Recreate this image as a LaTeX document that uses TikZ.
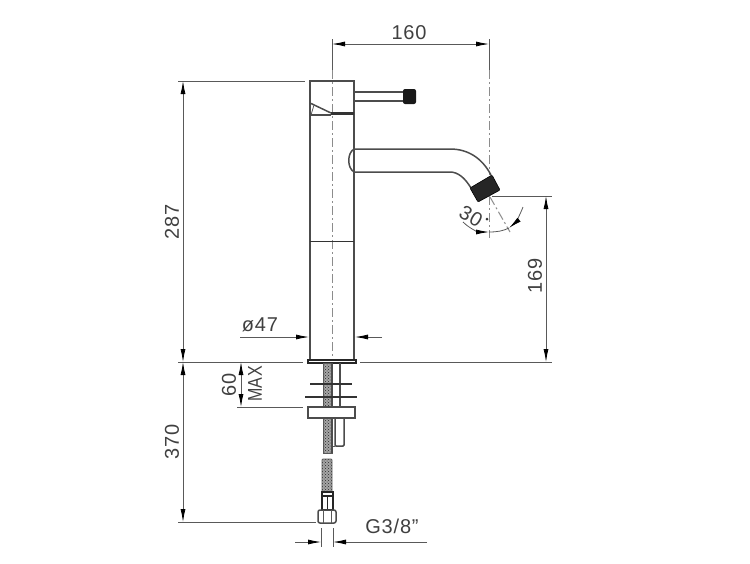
\documentclass[tikz,border=0pt]{standalone}
\usepackage{fontspec}
\setmainfont{Liberation Sans}[LetterSpace=4]
\usetikzlibrary{arrows.meta, patterns}

\begin{document}
\begin{tikzpicture}[
    x=1pt, y=-1pt,
    outline/.style={line width=1.5pt, black!70},
    heavy/.style={line width=2.2pt, black!80},
    thin line/.style={line width=0.8pt, black!65},
    axis/.style={line width=1pt, black!45, dash pattern=on 9pt off 3pt on 2pt off 3pt},
    dimension/.style={thin line, {Latex[length=13pt,width=5pt,black]}-{Latex[length=13pt,width=5pt,black]}},
    pointer/.style={thin line, -{Latex[length=13pt,width=5pt,black]}},
    hose/.style={line width=0.8pt, black!65, preaction={fill=black!35}, pattern=crosshatch dots, pattern color=black!85},
    label/.style={font=\fontsize{20}{20}\selectfont, text=black!75, inner sep=0pt}
]
\useasboundingbox (0,0) rectangle (750,563);

% Anchor points
\coordinate (topA) at (332,44);
\coordinate (topB) at (489,44);
\coordinate (leftTop) at (183,81);
\coordinate (leftMid) at (183,362);
\coordinate (leftLow) at (183,522);
\coordinate (rightTop) at (546,196);
\coordinate (rightLow) at (546,362);
\coordinate (maxTop) at (241,362);
\coordinate (maxLow) at (241,407);

% Axes
\draw[axis] (332,70) -- (332,360);
\draw[axis] (489,70) -- (489,175);
\draw[axis] (489,196) -- (489,238);
\draw[axis] (490,197) -- (510,232);

% Tap body
\draw[outline] (310,360) -- (310,81) -- (354,81) -- (354,360);
\draw[thin line, black!80, line width=1pt] (310,241) -- (354,241);
\draw[outline] (310,103) -- (331,113);
\draw[thin line] (311,115) -- (314,105);
\draw[outline] (310,115) -- (331,115);
\draw[heavy] (331,113.5) -- (354,113.5);

% Lever
\draw[outline] (354,92) -- (403,92);
\draw[outline] (354,101) -- (403,101);
\node[fill=black!90, rounded corners=2pt, minimum width=13pt, minimum height=15pt, inner sep=0pt] (knob) at (409.5,96.5) {};

% Spout
\draw[outline] (354,149) -- (450,149) .. controls (468,149) and (482,158) .. (491,175);
\draw[outline] (354,172) -- (450,172) .. controls (458,172) and (465,178) .. (471,188);
\draw[outline] (354,149) .. controls (347,153) and (347,168) .. (354,172);
\draw[line width=0.6pt, black, fill=black!85, rounded corners=1pt] (470,188) -- (492,175) -- (500,190) -- (478,202) -- cycle;

% Base
\draw[outline, black!85, fill=white] (308,360) rectangle (356,363);
\draw[hose] (323,363) rectangle (332,453);
\draw[outline] (332,363) -- (332,407);
\draw[outline] (340,363) -- (340,407);
\draw[heavy] (310,384) -- (352,384);
\draw[heavy] (305,397) -- (357,397);
\draw[outline, fill=white] (308,407) rectangle (355,418);
\draw[outline, rounded corners=1pt] (335,418) -- (335,446) -- (344,446) -- (344,418);
\draw[thin line] (332,446) -- (335,446);
\draw[outline] (332,418) -- (332,453);

% Hose end
\draw[hose, rounded corners=1pt] (322,459) rectangle (332,492);
\draw[outline, black!85] (322,492) rectangle (333,510);
\draw[outline, black!85] (327.5,496) -- (327.5,510);
\draw[outline, black!85] (321,496) -- (334,496);
\draw[outline, rounded corners=2pt] (318,510) rectangle (336,523);
\draw[thin line] (323,510) -- (323,523);
\draw[thin line] (331,510) -- (331,523);

% Extension lines
\draw[thin line] (332,39) -- (332,70);
\draw[thin line] (489,39) -- (489,70);
\draw[thin line] (178,81) -- (305,81);
\draw[thin line] (178,362) -- (303,362);
\draw[thin line] (360,362) -- (552,362);
\draw[thin line] (178,522) -- (316,522);
\draw[thin line] (492,196) -- (552,196);
\draw[thin line] (237,407) -- (303,407);

% Dimensions
\draw[dimension] (topA) -- (topB);
\draw[dimension] (leftTop) -- (leftMid);
\draw[dimension] (leftMid) -- (leftLow);
\draw[dimension] (rightTop) -- (rightLow);
\draw[dimension] (maxTop) -- (maxLow);

% Diameter
\coordinate (diaA) at (240,337);
\coordinate (diaB) at (309,337);
\coordinate (diaC) at (382,337);
\coordinate (diaD) at (355,337);
\draw[pointer] (diaA) -- (diaB);
\draw[pointer] (diaC) -- (diaD);

% Connector
\coordinate (pipeA) at (295,542);
\coordinate (pipeB) at (321,542);
\coordinate (pipeC) at (427,542);
\coordinate (pipeD) at (333,542);
\draw[pointer] (pipeA) -- (pipeB);
\draw[pointer] (pipeC) -- (pipeD);
\draw[thin line] (321,528) -- (321,547);
\draw[thin line] (333,528) -- (333,547);

% Angle
\coordinate (arcA) at (463,222);
\coordinate (arcB) at (489,232);
\coordinate (arcC) at (509,228);
\coordinate (arcD) at (523,207);
\draw[pointer] (arcA) .. controls (470,229) and (479,232) .. (arcB);
\draw[pointer] (arcD) .. controls (520,215) and (515,223) .. (arcC);
\draw[thin line] (arcB) .. controls (497,232) and (503,231) .. (arcC);
\fill[black!80] (487,219) circle (1.5pt);

% Labels
\node[label] (width) at (409,33) {160};
\node[label, rotate=90] (height) at (172,222) {287};
\node[label, rotate=90] (below) at (172,442) {370};
\node[label, rotate=90] (reach) at (535,276) {169};
\node[label, rotate=90] (sixty) at (229,385) {60};
\node[label, rotate=90] (max) at (255,384) {\scalebox{0.8}[1]{MAX}};
\node[label] (dia) at (260,325) {ø47};
\node[label, rotate=-30] (angle) at (471,216) {30};
\node[label] (thread) at (392,526) {G3/8"};

\end{tikzpicture}
\end{document}
